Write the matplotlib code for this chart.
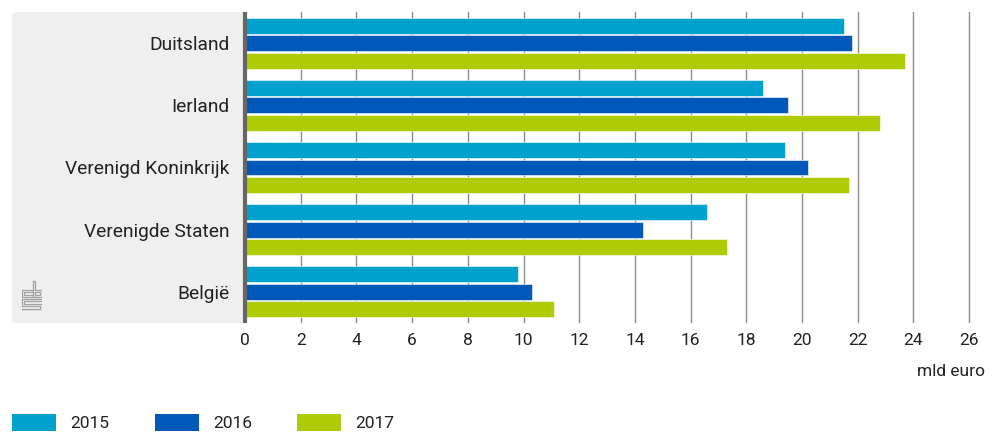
import matplotlib
matplotlib.use('Agg')
import matplotlib.pyplot as plt
from matplotlib.patches import FancyBboxPatch, Rectangle
import numpy as np

plt.rcParams['font.family'] = ['Roboto', 'DejaVu Sans']

# Data (mld euro)
countries = ['Duitsland', 'Ierland', 'Verenigd Koninkrijk', 'Verenigde Staten', 'België']
years = ['2015', '2016', '2017']
v2015 = [21.5, 18.6, 19.4, 16.6, 9.8]
v2016 = [21.8, 19.5, 20.2, 14.3, 10.3]
v2017 = [23.7, 22.8, 21.7, 17.3, 11.1]
colors = ['#00a1cd', '#0058b8', '#afcb05']

W, H = 994, 433
fig = plt.figure(figsize=(W / 100, H / 100), dpi=100)

# gray label panel behind the category names
panel = FancyBboxPatch((12 / W, 1 - 323 / H), (245 - 12) / W, (323 - 12) / H,
                       boxstyle='round,pad=0,rounding_size=0.006',
                       transform=fig.transFigure, facecolor='#efefef',
                       edgecolor='none', zorder=-5)
fig.patches.append(panel)

ax = fig.add_axes([245 / W, 1 - 323 / H, (990 - 245) / W, (323 - 12) / H])
ax.set_facecolor('none')

y = np.arange(len(countries))
offset = 0.281
h = 0.257
for i, (vals, col) in enumerate(zip([v2015, v2016, v2017], colors)):
    ax.barh(y + (i - 1) * offset, vals, height=h, color=col,
            edgecolor='white', linewidth=0.4, zorder=3)

ax.set_ylim(4.5, -0.5)
ax.set_xlim(0, 26.75)
ax.set_xticks(np.arange(0, 27, 2))
ax.set_yticks(y)
ax.set_yticklabels(countries, fontsize=13.8, color='#222222')
ax.tick_params(axis='y', length=0, pad=11)
ax.tick_params(axis='x', length=0, pad=7, labelsize=12.5, labelcolor='#222222')

ax.grid(axis='x', color='#8c8c8c', linewidth=1, zorder=1)
ax.set_axisbelow(True)
for s in ['top', 'right', 'bottom']:
    ax.spines[s].set_visible(False)
ax.spines['left'].set_color('#666666')
ax.spines['left'].set_linewidth(3)
ax.spines['left'].set_capstyle('butt')
ax.spines['left'].set_zorder(4)

fig.text(985 / W, 1 - 371 / H, 'mld euro', ha='right', va='center',
         fontsize=12.5, color='#222222')

# legend
lx = [12, 155, 297]
for x0, yr, col in zip(lx, years, colors):
    fig.patches.append(Rectangle((x0 / W, 1 - 431 / H), 44 / W, 17 / H,
                                 transform=fig.transFigure, facecolor=col,
                                 edgecolor='none'))
    fig.text((x0 + 58) / W, 1 - 423 / H, yr, ha='left', va='center',
             fontsize=12.5, color='#222222')

# small cbs logo
lc = '#a0a0a0'
logo = fig.add_axes([22 / W, 1 - 311 / H, 20 / W, 31 / H])
logo.set_xlim(-0.2, 8.2)
logo.set_ylim(-0.2, 12.2)
logo.axis('off')
segs = [
    # c
    ([3.8, 0, 0, 3.8], [8.3, 8.3, 5.3, 5.3]),
    ([3.8, 0.8, 0.8, 3.8], [7.5, 7.5, 6.1, 6.1]),
    # b
    ([4.4, 4.4, 8, 8, 5.2, 5.2, 4.4], [12, 5.3, 5.3, 8.3, 8.3, 12, 12]),
    ([5.2, 7.2, 7.2, 5.2, 5.2], [6.1, 6.1, 7.5, 7.5, 6.1]),
    # s
    ([8, 0, 0, 7.2, 7.2, 0, 0, 8, 8, 0.8, 0.8, 8, 8],
     [4.6, 4.6, 2.0, 2.0, 0.8, 0.8, 0, 0, 2.8, 2.8, 3.8, 3.8, 4.6]),
]
for xs, ys in segs:
    logo.plot(xs, ys, color=lc, linewidth=0.9)

fig.savefig('out.png', dpi=100)
